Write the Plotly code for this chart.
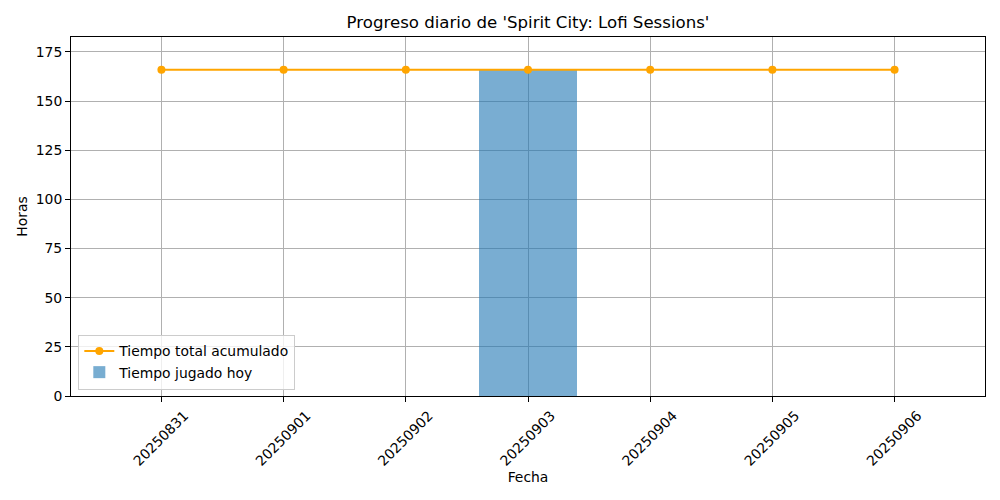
import plotly.graph_objects as go

# data
fechas = ["20250831", "20250901", "20250902", "20250903", "20250904", "20250905", "20250906"]
tiempo_hoy = [0, 0, 0, 165.8, 0, 0, 0]
tiempo_total = [165.9, 165.9, 165.9, 165.9, 165.9, 165.9, 165.9]
y_ticks = [0, 25, 50, 75, 100, 125, 150, 175]

font = "DejaVu Sans"
fs = 13.9

fig = go.Figure()
fig.add_trace(go.Scatter(x=list(range(len(fechas))), y=tiempo_total, mode="lines+markers",
                         name="Tiempo total acumulado",
                         line=dict(color="#ffa500", width=2), marker=dict(color="#ffa500", size=8)))
fig.add_trace(go.Bar(x=list(range(len(fechas))), y=tiempo_hoy, width=0.8,
                     name="Tiempo jugado hoy", marker=dict(color="#1f77b4", line=dict(width=0)),
                     opacity=0.6))

axis_common = dict(showline=True, linecolor="black", linewidth=1, mirror=True,
                   ticks="outside", ticklen=5, tickcolor="black",
                   showgrid=True, gridcolor="#b0b0b0", gridwidth=1, zeroline=False,
                   automargin=False,
                   tickfont=dict(family=font, size=fs, color="black"))

# page body has an 8px margin, so the figure is drawn 8px in from the window edge
fig.update_layout(
    width=992, height=492,
    paper_bgcolor="white", plot_bgcolor="white",
    margin=dict(l=63, r=15, t=29, b=104),
    title=dict(text="Progreso diario de 'Spirit City: Lofi Sessions'", x=0.5, xref="paper",
               xanchor="center", y=1 - 14 / 492, yanchor="middle",
               font=dict(family=font, size=16.6, color="black")),
    font=dict(family=font, size=fs, color="black"),
    xaxis=dict(axis_common, range=[-0.74, 6.74], tickmode="array",
               tickvals=list(range(len(fechas))), ticktext=fechas, tickangle=-45,
               ticklabelshift=23,
               title=dict(text="Fecha", font=dict(family=font, size=fs), standoff=4)),
    yaxis=dict(axis_common, range=[0, 182.6], tickmode="array", tickvals=y_ticks,
               title=dict(text="Horas", font=dict(family=font, size=fs), standoff=4)),
    legend=dict(x=0.008, y=0.018, xanchor="left", yanchor="bottom",
                bgcolor="rgba(255,255,255,0.8)", bordercolor="#cccccc", borderwidth=1,
                font=dict(family=font, size=fs), traceorder="normal"),
    bargap=0,
)

fig.write_html("out.html")
